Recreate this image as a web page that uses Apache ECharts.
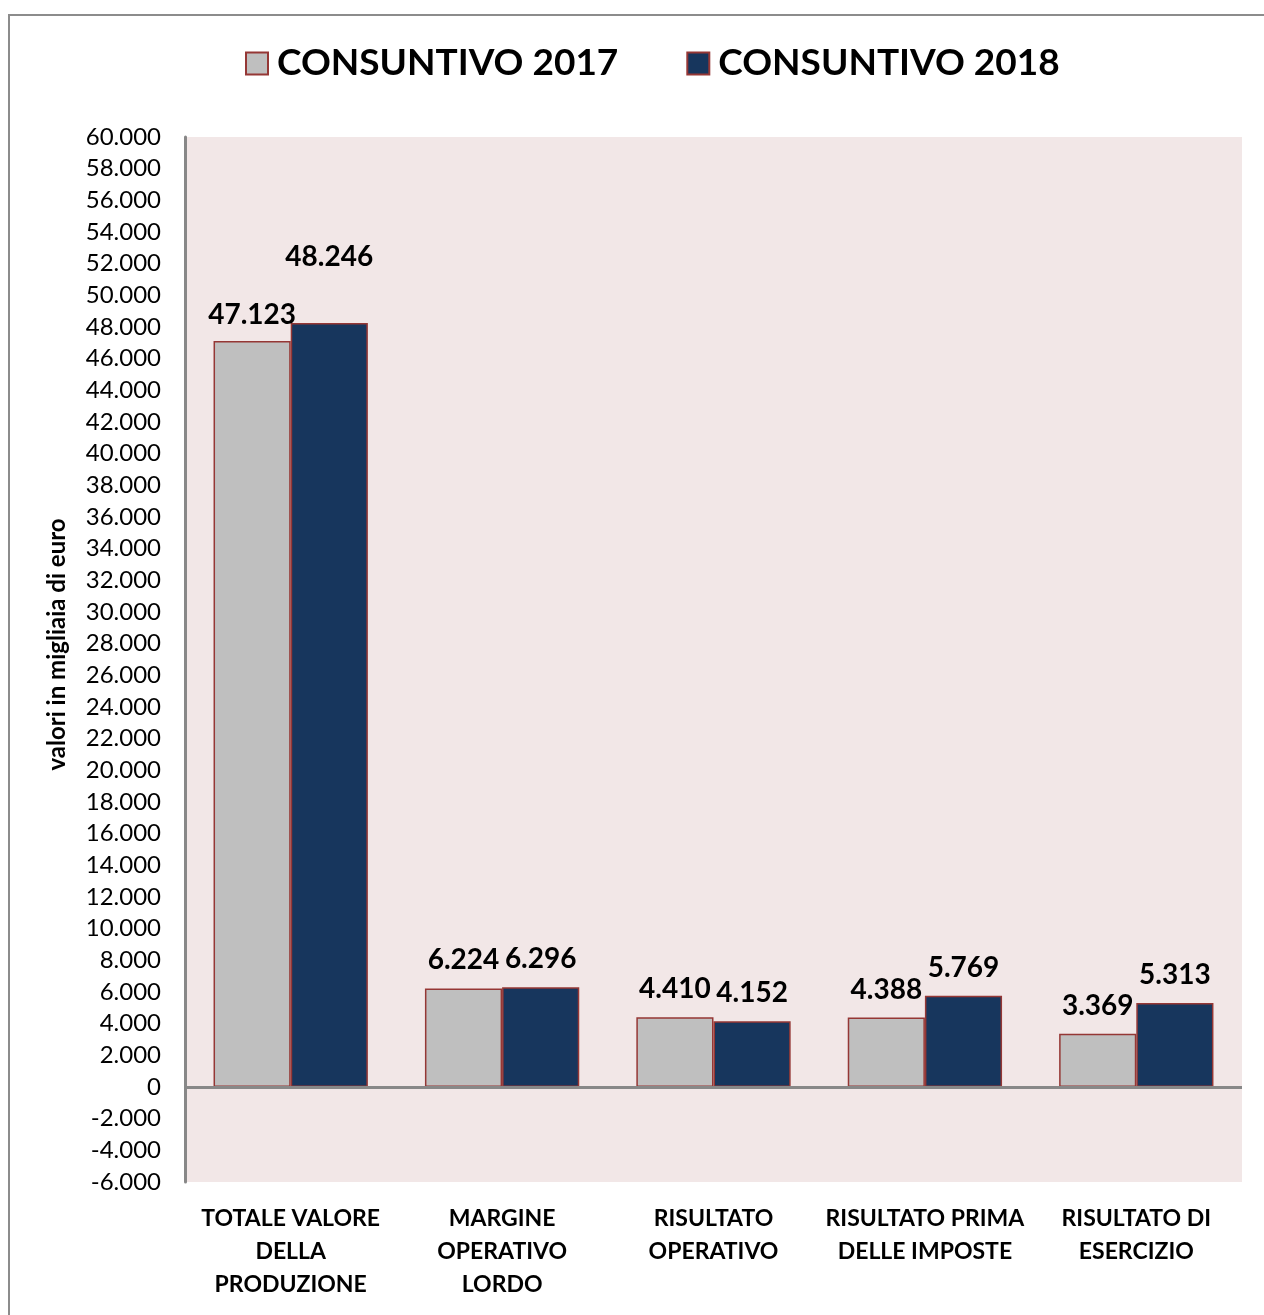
<!DOCTYPE html>
<html>
<head>
<meta charset="utf-8">
<script src="https://cdn.jsdelivr.net/npm/echarts@6/dist/echarts.min.js"></script>
<style>
html,body{margin:0;padding:0;background:#fff;}
#frame{position:absolute;left:8px;top:14px;width:1262px;height:1310px;border-left:2px solid #8c8c8c;border-top:2px solid #8c8c8c;box-sizing:border-box;}
#chart{position:absolute;left:0;top:0;width:1264px;height:1315px;}
</style>
</head>
<body>
<div id="frame"></div>
<div id="chart"></div>
<script>
const categories = ['TOTALE VALORE\nDELLA\nPRODUZIONE', 'MARGINE\nOPERATIVO\nLORDO', 'RISULTATO\nOPERATIVO', 'RISULTATO PRIMA\nDELLE IMPOSTE', 'RISULTATO DI\nESERCIZIO'];
const seriesNames = ['CONSUNTIVO 2017', 'CONSUNTIVO 2018'];
const values2017 = [47123, 6224, 4410, 4388, 3369];
const values2018 = [48246, 6296, 4152, 5769, 5313];
const labelDistance2017 = [12, 14, 14, 14, 14];
const labelDistance2018 = [52, 14, 14, 14, 14];

const fmt = v => {
  const s = Math.abs(v).toString().replace(/\B(?=(\d{3})+(?!\d))/g, '.');
  return (v < 0 ? '-' : '') + s;
};
const FONT = 'Lato';
const chart = echarts.init(document.getElementById('chart'));
function mk(vals, dists) {
  return vals.map((v, i) => ({ value: v, label: { distance: dists[i] } }));
}
const labelStyle = {
  show: true, position: 'top', fontFamily: FONT, fontWeight: 'bold', fontSize: 28, color: '#000',
  formatter: p => fmt(p.value)
};
chart.setOption({
  animation: false,
  textStyle: { fontFamily: FONT },
  legend: {
    top: 40, left: 240,
    icon: 'rect',
    itemWidth: 22, itemHeight: 22, itemGap: 68,
    textStyle: { fontFamily: FONT, fontWeight: 'bold', fontSize: 37, color: '#000', padding: [0, 0, 0, 4] },
    data: seriesNames
  },
  grid: { left: 185, right: 22, top: 137, bottom: 133, show: true, backgroundColor: '#F2E7E7', borderWidth: 0 },
  xAxis: {
    type: 'category', data: categories,
    axisLine: { show: false, onZero: false },
    axisTick: { show: false },
    axisLabel: { fontFamily: FONT, fontWeight: 'bold', fontSize: 23, color: '#000', lineHeight: 33, margin: 20, interval: 0 }
  },
  yAxis: {
    type: 'value', min: -6000, max: 60000, interval: 2000,
    name: 'valori in migliaia di euro', nameLocation: 'middle', nameGap: 116,
    nameTextStyle: { fontFamily: FONT, fontWeight: 'bold', fontSize: 24, color: '#000', padding: [0, 0, 0, 30] },
    axisLine: { show: true, lineStyle: { color: '#888', width: 3 } },
    axisTick: { show: false },
    splitLine: { show: false },
    axisLabel: { fontFamily: FONT, fontSize: 24, color: '#000', margin: 24, formatter: fmt }
  },
  series: [
    {
      name: seriesNames[0], type: 'bar', data: mk(values2017, labelDistance2017),
      barGap: '0%', barCategoryGap: '27%',
      itemStyle: { color: '#BFBFBF', borderColor: '#953735', borderWidth: 1.5 },
      label: labelStyle,
      markLine: {
        silent: true, symbol: 'none', label: { show: false },
        lineStyle: { color: '#888', width: 3, type: 'solid' },
        data: [{ yAxis: 0 }]
      }
    },
    {
      name: seriesNames[1], type: 'bar', data: mk(values2018, labelDistance2018),
      itemStyle: { color: '#17365D', borderColor: '#953735', borderWidth: 1.5 },
      label: labelStyle
    }
  ]
});
</script>
</body>
</html>
